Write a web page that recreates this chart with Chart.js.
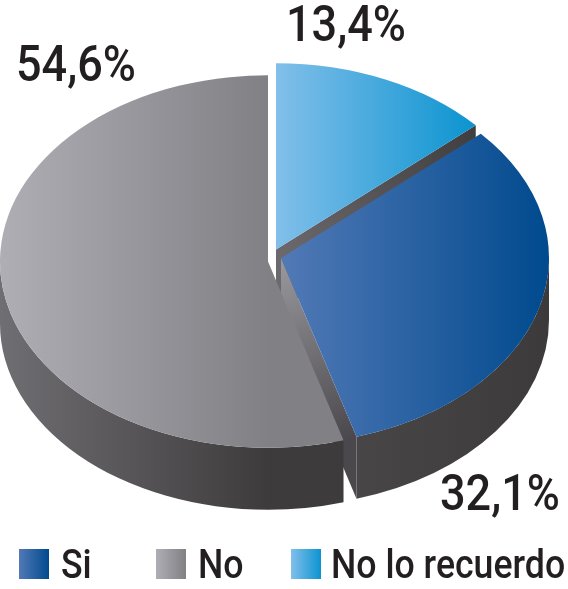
<!DOCTYPE html>
<html>
<head>
<meta charset="utf-8">
<title>Pie</title>
<script src="https://cdn.jsdelivr.net/npm/chart.js@4"></script>
<style>
  html, body { margin: 0; padding: 0; background: #fff; }
  #box { width: 568px; height: 589px; }
</style>
</head>
<body>
<div id="box"><canvas id="pie"></canvas></div>
<script>
// datos
const categorias = ['Si', 'No', 'No lo recuerdo'];
const valores = [32.1, 54.6, 13.4];

// estilo: colores de cada porcion (claro a oscuro, izquierda a derecha)
const coloresCara = [['#5279b6', '#004a8e'], ['#afaeb4', '#818085'], ['#82bfea', '#0c94d0']];
const coloresPared = [['#4c4a4c', '#3d3a3b'], ['#6f6e72', '#3e3b3c'], ['#6b696d', '#403d3f']];
const xCara = [[281, 549], [0, 268], [276, 474]];
const vertices = [[281, 258], [268, 261.5], [276, 249.5]];
const ordenDibujo = [2, 0, 1];
const achatado = 0.695;
const alto = 62;
const radio = 268;
const fuenteTexto = 'Roboto';

const posEtiquetas = [[440, 510], [16, 81], [286, 41]];
const posLeyenda = [[19, 61], [156, 198], [291, 331]];

function dibujarTexto(ctx, txt, x, y, size, ancho) {
  ctx.save();
  ctx.font = '500 ' + size + 'px ' + fuenteTexto;
  ctx.fillStyle = '#231f20';
  ctx.textBaseline = 'alphabetic';
  ctx.textAlign = 'left';
  ctx.translate(x, y);
  ctx.scale(ancho, 1);
  ctx.fillText(txt, 0, 0);
  ctx.restore();
}

const pie3d = {
  id: 'pie3d',
  beforeDatasetsDraw(chart) {
    const ctx = chart.ctx;
    const arcs = chart.getDatasetMeta(0).data;
    ordenDibujo.forEach(i => {
      const arc = arcs[i];
      const [ax, ay] = vertices[i];
      const r = arc.outerRadius;
      const a1 = arc.startAngle, a2 = arc.endAngle;
      const ex = a => ax + r * Math.cos(a);
      const ey = a => ay + r * achatado * Math.sin(a);

      // pared exterior, solo la parte de adelante
      const d1 = Math.max(a1, 0), d2 = Math.min(a2, Math.PI);
      if (d2 > d1) {
        const g = ctx.createLinearGradient(xCara[i][0], 0, xCara[i][1], 0);
        g.addColorStop(0, coloresPared[i][0]);
        g.addColorStop(1, coloresPared[i][1]);
        ctx.beginPath();
        ctx.ellipse(ax, ay, r, r * achatado, 0, d1, d2);
        ctx.ellipse(ax, ay + alto, r, r * achatado, 0, d2, d1, true);
        ctx.closePath();
        ctx.fillStyle = g;
        ctx.fill();
      }
      // cara del corte que mira hacia adelante
      const corte = i === 0 ? a2 : (i === 2 ? a2 : null);
      if (corte !== null) {
        const g = ctx.createLinearGradient(ax, ay, ex(corte), ey(corte));
        g.addColorStop(0, i === 0 ? '#9a999e' : '#6b696d');
        g.addColorStop(1, i === 0 ? '#4a484c' : '#403d3f');
        ctx.beginPath();
        ctx.moveTo(ax, ay);
        ctx.lineTo(ex(corte), ey(corte));
        ctx.lineTo(ex(corte), ey(corte) + alto);
        ctx.lineTo(ax, ay + alto);
        ctx.closePath();
        ctx.fillStyle = g;
        ctx.fill();
      }
      // cara superior: la dibuja el propio arco de Chart.js
      ctx.save();
      ctx.translate(ax, ay);
      ctx.scale(1, achatado);
      ctx.translate(-arc.x, -arc.y);
      arc.draw(ctx);
      ctx.restore();
    });
    return false;
  },
  afterDraw(chart) {
    const ctx = chart.ctx;
    valores.forEach((v, i) => {
      const txt = v.toFixed(1).replace('.', ',') + '%';
      dibujarTexto(ctx, txt, posEtiquetas[i][0], posEtiquetas[i][1], 50, 0.9);
    });
    categorias.forEach((c, i) => {
      const [xc, xt] = posLeyenda[i];
      const g = ctx.createLinearGradient(xc, 0, xc + 30, 0);
      g.addColorStop(0, coloresCara[i][0]);
      g.addColorStop(1, coloresCara[i][1]);
      ctx.fillStyle = g;
      ctx.fillRect(xc, 549, 30, 30);
      dibujarTexto(ctx, c, xt, 578, 41, 0.87);
    });
  }
};

new Chart(document.getElementById('pie'), {
  type: 'pie',
  data: {
    labels: categorias,
    datasets: [{
      data: valores,
      borderWidth: 0,
      backgroundColor(c) {
        const i = c.dataIndex;
        if (i === undefined) return '#888';
        // el degradado se fija en coordenadas del arco antes de trasladarlo
        const dx = c.chart.width / 2 - vertices[i][0];
        const g = c.chart.ctx.createLinearGradient(xCara[i][0] + dx, 0, xCara[i][1] + dx, 0);
        g.addColorStop(0, coloresCara[i][0]);
        g.addColorStop(1, coloresCara[i][1]);
        return g;
      }
    }]
  },
  options: {
    responsive: true,
    maintainAspectRatio: false,
    animation: false,
    radius: radio,
    rotation: 48.19,
    plugins: { legend: { display: false }, tooltip: { enabled: false } }
  },
  plugins: [pie3d]
});
</script>
</body>
</html>
